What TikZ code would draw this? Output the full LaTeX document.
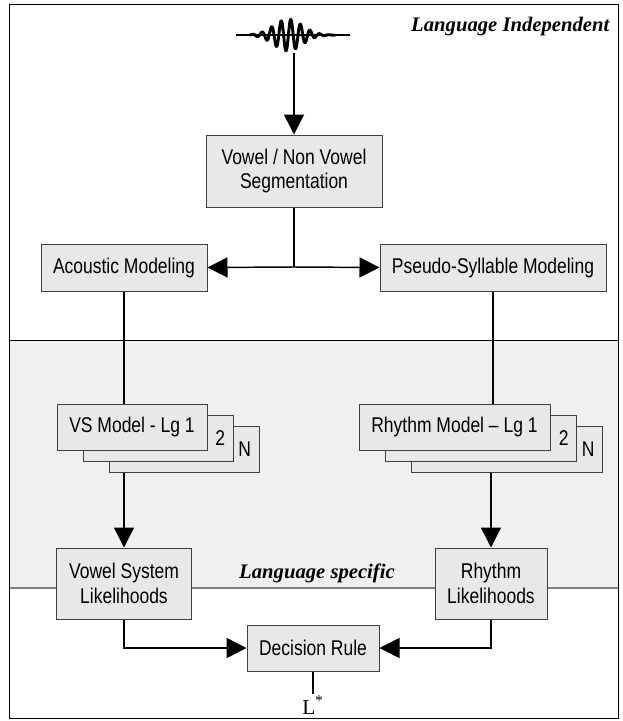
\documentclass[tikz,border=0pt]{standalone}
\usepackage{fontspec}
\newfontfamily\boxfont{Liberation Sans}[FakeStretch=0.82]
\newfontfamily\serfont{Liberation Serif}
\usepackage{tikz}
\usetikzlibrary{arrows.meta, positioning}

\begin{document}
\begin{tikzpicture}[x=0.75pt, y=-0.75pt,
    blk/.style={rectangle, draw=black!75, fill=black!9, line width=0.75pt, inner sep=0pt, align=center, font=\boxfont\fontsize{16}{18.5}\selectfont},
    stk/.style={blk, text width=#1, align=right, inner xsep=6pt, minimum height=34.5pt},
    zone/.style={font=\serfont\bfseries\itshape\fontsize{15.5}{18}\selectfont},
    arr/.style={-{Triangle[length=15pt, width=15pt]}, line width=1.1pt},
    con/.style={line width=1.1pt}]
    \useasboundingbox (0,0) rectangle (622,721);
    % language specific band
    \fill[black!6] (9,340) rectangle (618,588);
    \draw[black, line width=0.75pt] (9,340) -- (618,340);
    \draw[black!50, line width=1.1pt] (9,588) -- (618,588);
    \draw[black, line width=0.75pt] (9,4) rectangle (618,718);

    \node[zone, anchor=east] (indep) at (614,27) {Language Independent};
    \node[zone] (spec) at (317,573) {Language specific};

    % speech signal
    \draw[line width=1.1pt] (236,35) -- (350,35);
    \draw[line width=2.2pt, line cap=round, line join=round] plot[domain=250:335, samples=300] (\x, {35-16*exp(-((\x-288)/20)^2)*sin(37.5*(\x-250))});
    \coordinate (wave) at (294,53);

    \node[blk, minimum width=132pt, minimum height=54pt] (vowel) at (294,171) {Vowel / Non Vowel\\Segmentation};
    \coordinate (split) at (294,267);
    \node[blk, minimum width=124.5pt, minimum height=35.25pt] (acoustic) at (124,267.5) {Acoustic Modeling};
    \node[blk, minimum width=169.5pt, minimum height=35.25pt] (pseudo) at (493,267.5) {Pseudo-Syllable Modeling};

    \node[stk=100.5pt] (vsN) at (184,449) {N};
    \node[stk=100.5pt] (vs2) at (158,438) {2};
    \node[blk, minimum width=112.5pt, minimum height=34.5pt] (vs1) at (132,427) {VS Model - Lg 1};

    \node[stk=131.25pt] (rmN) at (507,449) {N};
    \node[stk=131.25pt] (rm2) at (481,438) {2};
    \node[blk, minimum width=143.25pt, minimum height=34.5pt] (rm1) at (454.5,427) {Rhythm Model – Lg 1};

    \node[blk, minimum width=101.25pt, minimum height=53.25pt] (vsl) at (124,583.5) {Vowel System\\Likelihoods};
    \node[blk, minimum width=84pt, minimum height=53.25pt] (rl) at (491,583.5) {Rhythm\\Likelihoods};
    \node[blk, minimum width=99pt, minimum height=34.5pt] (decision) at (313,648) {Decision Rule};
    \node[font=\serfont\fontsize{16}{18}\selectfont, inner sep=1pt] (lstar) at (313,705) {L\textsuperscript{*}};

    \draw[arr] (wave) -- (vowel.north);
    \draw[con] (vowel.south) -- (split);
    \draw[arr] (split) -- (acoustic.east);
    \draw[arr] (split) -- (pseudo.west);
    \draw[con] (acoustic.south) -- (acoustic.south |- vs1.north);
    \draw[con] (pseudo.south) -- (pseudo.south |- rm1.north);
    \draw[arr] (vsl.north |- vsN.south) -- (vsl.north);
    \draw[arr] (rl.north |- rmN.south) -- (rl.north);
    \draw[arr] (vsl.south) |- (decision.west);
    \draw[arr] (rl.south) |- (decision.east);
    \draw[con] (decision.south) -- (lstar.north);
\end{tikzpicture}
\end{document}
